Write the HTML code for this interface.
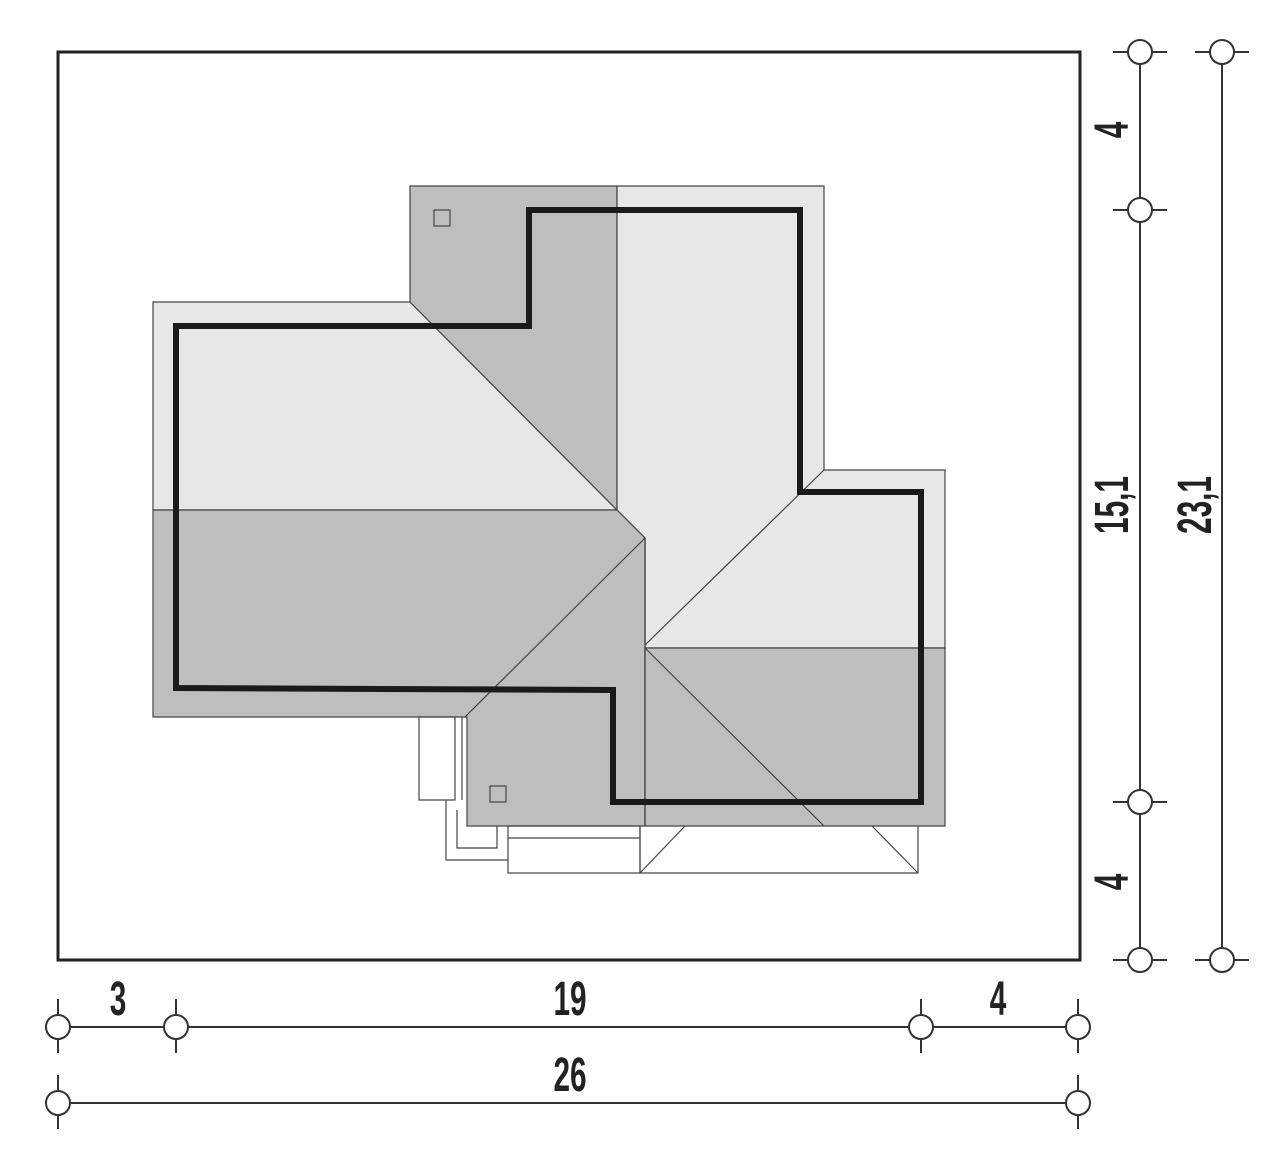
<!DOCTYPE html>
<html><head><style>
html,body{margin:0;padding:0;background:#fff;}
svg{display:block}
text{font-family:"Liberation Sans Narrow","Liberation Sans",sans-serif;font-weight:bold;fill:#222;}
</style></head><body>
<svg width="1280" height="1155" viewBox="0 0 1280 1155" xmlns="http://www.w3.org/2000/svg">
<rect x="58" y="52" width="1022" height="908" fill="#fff" stroke="#222" stroke-width="3"/>
<g stroke="#444" stroke-width="1.2" stroke-linejoin="miter">
<polygon points="153,302 410,302 617,510 153,510" fill="#e6e7e8"/>
<polygon points="410,186 617,186 617,510 410,302" fill="#bdbec0"/>
<polygon points="617,186 824,186 824,470 945,470 945,648 645,648 645,538 617,510" fill="#e6e7e8"/>
<polygon points="153,510 617,510 645,538 645,826 467,826 467,717 153,717" fill="#bdbec0"/>
<polygon points="645,648 945,648 945,826 645,826" fill="#bdbec0"/>
<line x1="645" y1="538" x2="465" y2="717"/>
<line x1="645" y1="645" x2="824" y2="470"/>
<line x1="645" y1="648" x2="824" y2="826"/>
<line x1="645" y1="538" x2="645" y2="826"/>
<rect x="434" y="210" width="16" height="16" fill="none"/>
<rect x="490" y="786" width="16" height="16" fill="none"/>
</g>
<path d="M176,326 L529,326 L529,210 L800,210 L800,492 L921,492 L921,802 L613,802 L613,690 L176,688 Z" fill="none" stroke="#1a1a1a" stroke-width="6" stroke-linejoin="miter"/>
<g stroke="#444" stroke-width="1.2" fill="none">
<rect x="419" y="717" width="36" height="83"/>
<line x1="462" y1="717" x2="462" y2="800"/>
<polyline points="446,800 446,860 508,860"/>
<polyline points="457,810 457,848 497,848 497,826"/>
<rect x="508" y="826" width="132" height="47"/>
<line x1="508" y1="838" x2="640" y2="838"/>
<polyline points="640,826 640,873 918,873 918,826"/>
<line x1="640" y1="873" x2="685" y2="826"/>
<line x1="872" y1="826" x2="918" y2="873"/>
</g>
<g stroke="#333" stroke-width="2" fill="#fff">
<line x1="1140" y1="52" x2="1140" y2="960"/>
<line x1="1222" y1="52" x2="1222" y2="960"/>
<line x1="1113" y1="52" x2="1167" y2="52"/><line x1="1113" y1="210" x2="1167" y2="210"/>
<line x1="1113" y1="802" x2="1167" y2="802"/><line x1="1113" y1="960" x2="1167" y2="960"/>
<line x1="1195" y1="52" x2="1249" y2="52"/><line x1="1195" y1="960" x2="1249" y2="960"/>
<circle cx="1140" cy="52" r="12"/><circle cx="1140" cy="210" r="12"/>
<circle cx="1140" cy="802" r="12"/><circle cx="1140" cy="960" r="12"/>
<circle cx="1222" cy="52" r="12"/><circle cx="1222" cy="960" r="12"/>
<line x1="58" y1="1027" x2="1078" y2="1027"/>
<line x1="58" y1="1103" x2="1078" y2="1103"/>
<line x1="58" y1="999" x2="58" y2="1053"/><line x1="176" y1="999" x2="176" y2="1053"/>
<line x1="921" y1="999" x2="921" y2="1053"/><line x1="1078" y1="999" x2="1078" y2="1053"/>
<line x1="58" y1="1075" x2="58" y2="1129"/><line x1="1078" y1="1075" x2="1078" y2="1129"/>
<circle cx="58" cy="1027" r="12"/><circle cx="176" cy="1027" r="12"/>
<circle cx="921" cy="1027" r="12"/><circle cx="1078" cy="1027" r="12"/>
<circle cx="58" cy="1103" r="12"/><circle cx="1078" cy="1103" r="12"/>
</g>
<g font-size="48" text-anchor="middle">
<text transform="translate(118,1015) scale(0.62,1)">3</text>
<text transform="translate(570,1015) scale(0.62,1)">19</text>
<text transform="translate(998,1015) scale(0.62,1)">4</text>
<text transform="translate(570,1091) scale(0.62,1)">26</text>
<text transform="translate(1128,130) rotate(-90) scale(0.62,1)">4</text>
<text transform="translate(1128,505) rotate(-90) scale(0.62,1)">15,1</text>
<text transform="translate(1128,882) rotate(-90) scale(0.62,1)">4</text>
<text transform="translate(1211,505) rotate(-90) scale(0.62,1)">23,1</text>
</g>
</svg>
</body></html>
